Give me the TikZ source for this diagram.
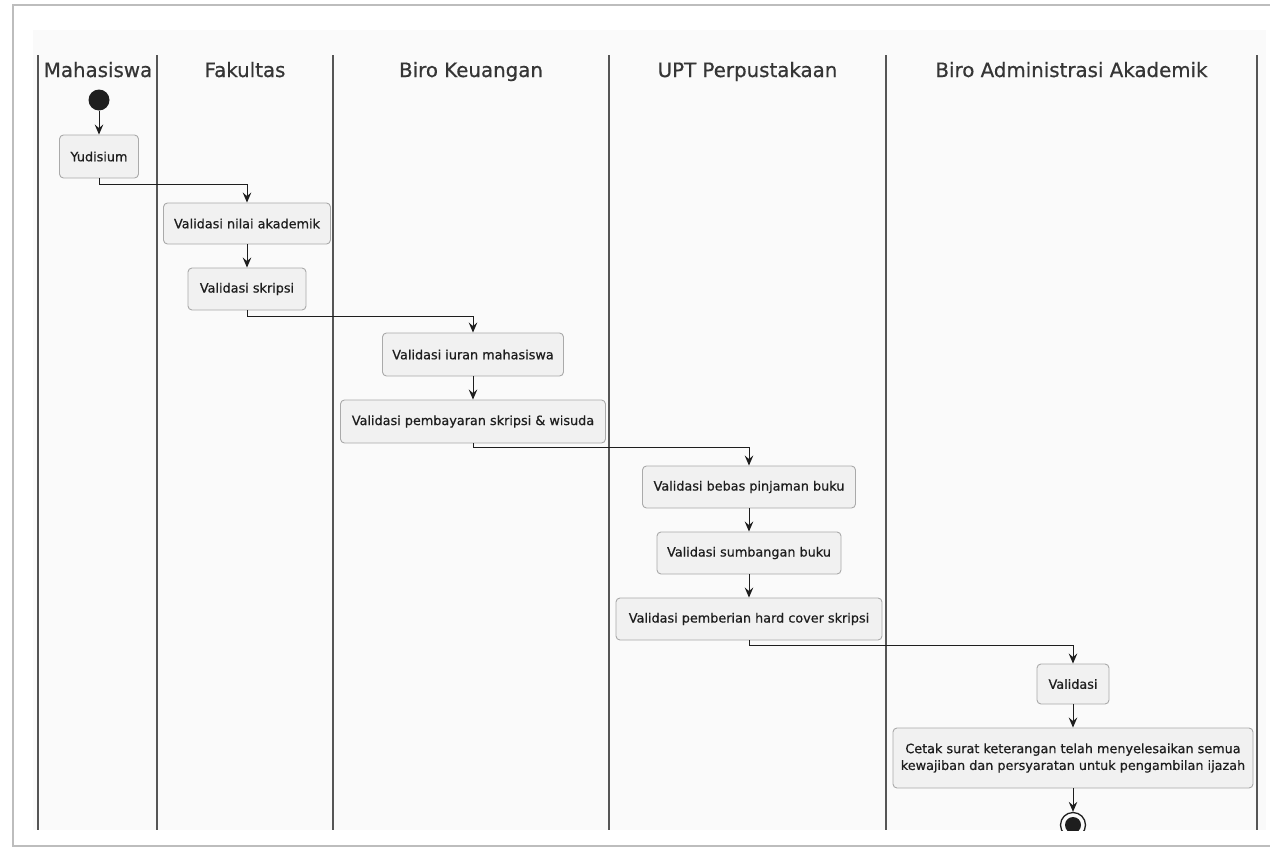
\documentclass[tikz,border=0pt]{standalone}
\usepackage{fontspec}
\setmainfont{DejaVu Sans}
\newfontfamily\heavyfont[FakeBold=0.6]{DejaVu Sans}
\usetikzlibrary{arrows.meta}
\definecolor{boxfill}{HTML}{F1F1F1}
\definecolor{boxline}{HTML}{AAAAAA}
\definecolor{panel}{HTML}{FAFAFA}
\definecolor{lane}{HTML}{555555}
\definecolor{ink}{HTML}{1E1E1E}
\definecolor{frame}{HTML}{BDBDBD}
\begin{document}
\begin{tikzpicture}[x=1pt,y=-1pt,
 actbox/.style={draw=boxline, fill=boxfill, rounded corners=4pt, line width=0.9pt,
   font=\heavyfont\fontsize{12.8}{16.8}\selectfont, text=ink, align=center, inner sep=0pt},
 flow/.style={draw=ink, line width=1pt, -{Stealth[length=10pt,width=8.5pt,inset=3.5pt]}},
 lanetitle/.style={font=\heavyfont\fontsize{19.8}{22}\selectfont, text=ink!90, anchor=base},
 laneline/.style={draw=lane, line width=1.6pt}]
\useasboundingbox (0,0) rectangle (1270,849);
\fill[white] (0,0) rectangle (1270,849);
\draw[frame, line width=1.8pt] (1275,5) -- (13,5) -- (13,846) -- (1275,846);
\fill[panel] (33,30) rectangle (1266,830);
% lanes
\foreach \lx in {38,157,333,609,886,1257}{
  \draw[laneline] (\lx,55) -- (\lx,830);
}
\node[lanetitle] (t1) at (98,77) {Mahasiswa};
\node[lanetitle] (t2) at (245,77) {Fakultas};
\node[lanetitle] (t3) at (471,77) {Biro Keuangan};
\node[lanetitle] (t4) at (747.5,77) {UPT Perpustakaan};
\node[lanetitle] (t5) at (1071.5,77) {Biro Administrasi Akademik};
% nodes
\node[circle, fill=ink, minimum size=21pt, inner sep=0pt] (start) at (99,100) {};
\node[actbox, minimum width=79pt, minimum height=43pt] (yud) at (99,156.5) {Yudisium};
\node[actbox, minimum width=167pt, minimum height=41pt] (val1) at (247,223.5) {Validasi nilai akademik};
\node[actbox, minimum width=118pt, minimum height=42pt] (val2) at (247,289) {Validasi skripsi};
\node[actbox, minimum width=181pt, minimum height=43pt] (iuran) at (473,354.5) {Validasi iuran mahasiswa};
\node[actbox, minimum width=265pt, minimum height=43pt] (bayar) at (473,421.5) {Validasi pembayaran skripsi \& wisuda};
\node[actbox, minimum width=213pt, minimum height=42pt] (bebas) at (749,487) {Validasi bebas pinjaman buku};
\node[actbox, minimum width=184pt, minimum height=42pt] (sumb) at (749,553) {Validasi sumbangan buku};
\node[actbox, minimum width=266pt, minimum height=42pt] (hard) at (749,619) {Validasi pemberian hard cover skripsi};
\node[actbox, minimum width=72pt, minimum height=40pt] (valid) at (1073,684) {Validasi};
\node[actbox, minimum width=360pt, minimum height=60pt] (cetak) at (1073,758) {Cetak surat keterangan telah menyelesaikan semua\\kewajiban dan persyaratan untuk pengambilan ijazah};
\begin{scope}
\clip (33,30) rectangle (1266,830);
\node[circle, draw=ink, line width=1.3pt, minimum size=25pt, inner sep=0pt] (stop) at (1073,825) {};
\fill[ink] (stop.center) circle (8pt);
\end{scope}
% connectors
\draw[flow] (start) -- (yud);
\draw[flow] (yud.south) -- ++(0,6.5) -| (val1.north);
\draw[flow] (val1) -- (val2);
\draw[flow] (val2.south) -- ++(0,6) -| (iuran.north);
\draw[flow] (iuran) -- (bayar);
\draw[flow] (bayar.south) -- ++(0,4.5) -| (bebas.north);
\draw[flow] (bebas) -- (sumb);
\draw[flow] (sumb) -- (hard);
\draw[flow] (hard.south) -- ++(0,5.5) -| (valid.north);
\draw[flow] (valid) -- (cetak);
\draw[flow] (cetak) -- (stop);
\end{tikzpicture}
\end{document}
